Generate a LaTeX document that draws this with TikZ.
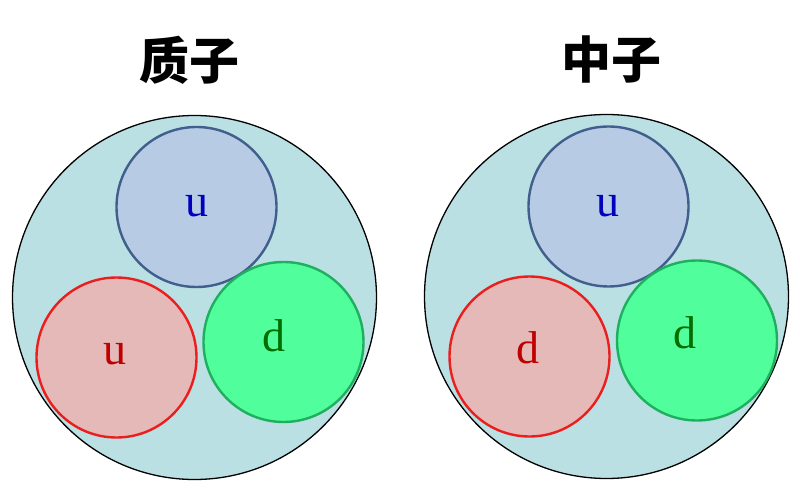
\documentclass[tikz,border=0pt]{standalone}
\usepackage{fontspec}
\setmainfont{Liberation Serif}
\newfontfamily\cjk{Noto Sans CJK SC}
\usetikzlibrary{positioning}
\definecolor{cellfill}{RGB}{187,224,227}
\definecolor{ufill}{RGB}{183,204,228}
\definecolor{udraw}{RGB}{65,95,140}
\definecolor{rfill}{RGB}{230,185,185}
\definecolor{rdraw}{RGB}{235,30,30}
\definecolor{gfill}{RGB}{80,255,155}
\definecolor{gdraw}{RGB}{30,175,95}
\definecolor{utext}{RGB}{0,0,190}
\definecolor{rtext}{RGB}{190,0,0}
\definecolor{gtext}{RGB}{0,110,0}
\tikzset{
    cell/.style={circle, draw=black, line width=1.3pt, fill=cellfill, minimum size=364pt, inner sep=0pt},
    quark/.style={circle, line width=2.4pt, minimum size=160pt, inner sep=0pt},
    qlabel/.style={font=\fontsize{46}{46}\selectfont, inner sep=0pt},
    title/.style={font=\cjk\bfseries\fontsize{50}{50}\selectfont}
}

\begin{document}
\begin{tikzpicture}[x=1pt, y=-1pt]
    \useasboundingbox (0, 0) rectangle (800, 494);
    % titles
    \node[title] (Tp) at (189, 60) {质子};
    \node[title] (Tn) at (611, 60) {中子};
    % proton
    \node[cell] (P) at (194.5, 297.5) {};
    \node[quark, draw=udraw, fill=ufill] (P1) at (196.5, 207) {};
    \node[quark, draw=rdraw, fill=rfill] (P2) at (116.5, 357.5) {};
    \node[quark, draw=gdraw, fill=gfill] (P3) at (283.5, 342) {};
    \node[qlabel, text=utext, anchor=base] at (197, 217) {u};
    \node[qlabel, text=rtext, anchor=base] at (115, 364) {u};
    \node[qlabel, text=gtext, anchor=base] at (273.5, 351) {d};
    % neutron
    \node[cell] (N) at (606.5, 296.5) {};
    \node[quark, draw=udraw, fill=ufill] (N1) at (608.5, 206.5) {};
    \node[quark, draw=rdraw, fill=rfill] (N2) at (529.5, 356.5) {};
    \node[quark, draw=gdraw, fill=gfill] (N3) at (697, 340.5) {};
    \node[qlabel, text=utext, anchor=base] at (608, 217) {u};
    \node[qlabel, text=rtext, anchor=base] at (528, 363) {d};
    \node[qlabel, text=gtext, anchor=base] at (685, 348) {d};
\end{tikzpicture}
\end{document}
